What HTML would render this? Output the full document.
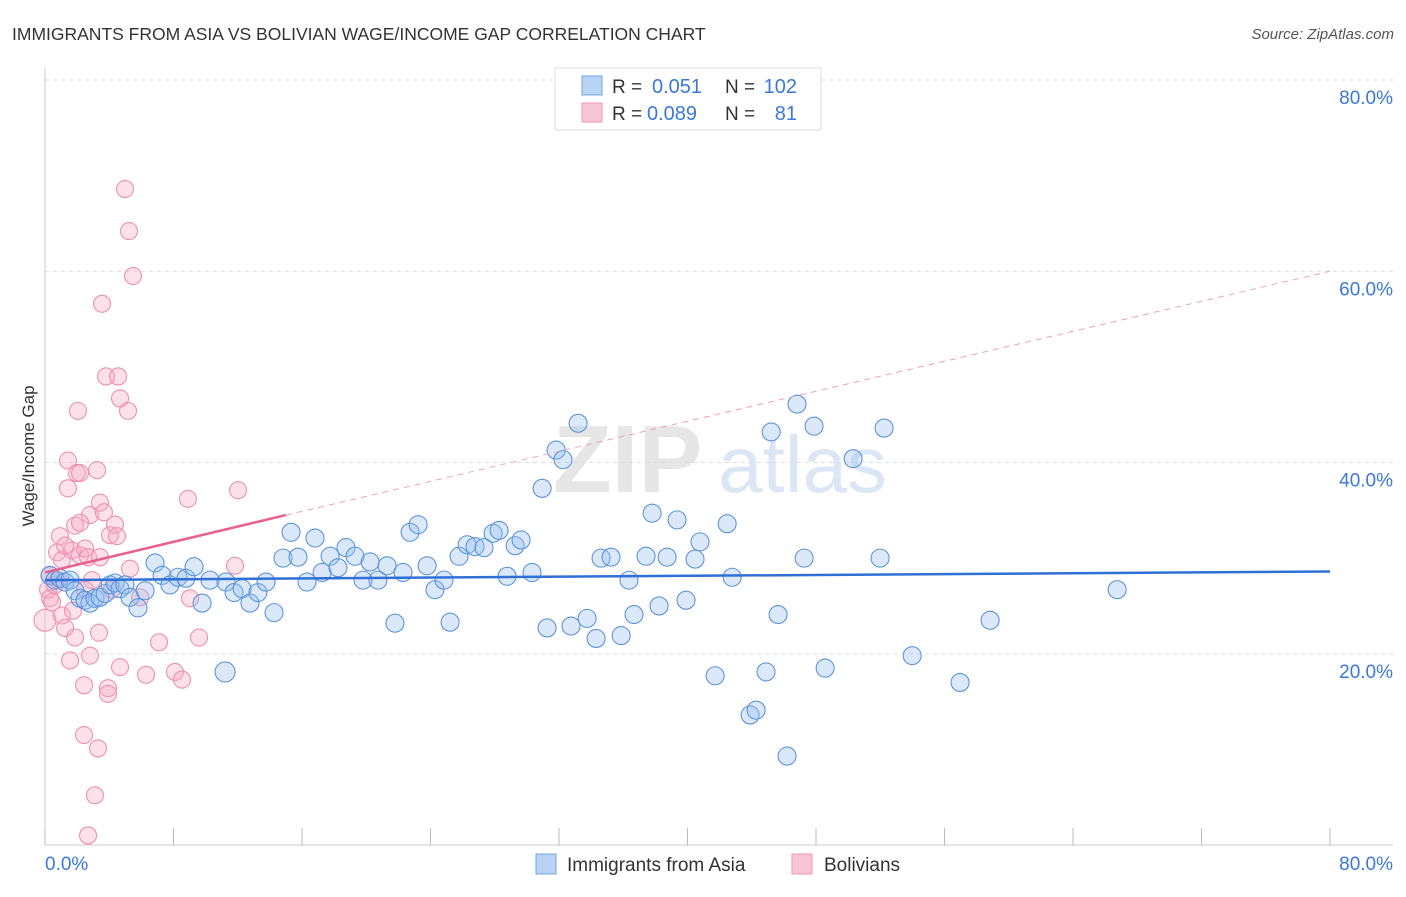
<!DOCTYPE html>
<html><head><meta charset="utf-8"><style>
body{margin:0;background:#fff;font-family:"Liberation Sans",sans-serif;}
svg text{font-family:"Liberation Sans",sans-serif;}
</style></head><body>
<svg id="chart" width="1406" height="892" viewBox="0 0 1406 892" xmlns="http://www.w3.org/2000/svg">
<text x="12" y="40" font-size="17.5" fill="#333">IMMIGRANTS FROM ASIA VS BOLIVIAN WAGE/INCOME GAP CORRELATION CHART</text>
<text x="1394" y="39" font-size="15" fill="#555" text-anchor="end" font-style="italic">Source: ZipAtlas.com</text>
<g>
<text x="553" y="492" font-size="96" fill="#e6e6e6" font-family="Liberation Serif,serif" font-weight="bold">ZIP</text>
<text x="718" y="492" font-size="80" fill="#dbe7f5">atlas</text>
</g>
<g id="grid"></g>
<g id="axes"></g>
<g id="pink"></g>
<g id="blue"></g>
<g id="trends"></g>
<text transform="translate(34,456) rotate(-90)" font-size="17" fill="#333" text-anchor="middle">Wage/Income Gap</text>
<g>
<rect x="555" y="68" width="266" height="62" fill="#fff" stroke="#ddd"/>
<rect x="582" y="76" width="20" height="19" fill="#b9d3f5" stroke="#6fa3e0"/>
<rect x="582" y="103" width="20" height="19" fill="#f9c5d6" stroke="#ee9ab8"/>
<text x="612" y="93" font-size="19" fill="#333">R =</text>
<text x="652" y="93" font-size="20" fill="#3b78d8">0.051</text>
<text x="725" y="93" font-size="19" fill="#333">N =</text>
<text x="797" y="93" font-size="20" fill="#3b78d8" text-anchor="end">102</text>
<text x="612" y="120" font-size="19" fill="#333">R =</text>
<text x="647" y="120" font-size="20" fill="#3b78d8">0.089</text>
<text x="725" y="120" font-size="19" fill="#333">N =</text>
<text x="797" y="120" font-size="20" fill="#3b78d8" text-anchor="end">81</text>
</g>
<g>
<rect x="536" y="854" width="20" height="20" fill="#b9d3f5" stroke="#6fa3e0"/>
<text x="567" y="871" font-size="19" fill="#333">Immigrants from Asia</text>
<rect x="792" y="854" width="20" height="20" fill="#f9c5d6" stroke="#ee9ab8"/>
<text x="824" y="871" font-size="19" fill="#333">Bolivians</text>
</g>
</svg>
<script>
const blueX=[0.31,0.62,0.93,1.25,1.56,1.87,2.18,2.49,2.8,3.11,3.42,3.74,4.05,4.36,4.67,4.98,5.29,5.79,6.23,6.85,7.29,7.78,8.28,8.78,9.28,9.78,10.27,11.27,11.77,12.27,12.76,13.26,13.76,14.26,14.82,15.32,15.75,16.31,16.81,17.25,17.75,18.24,18.74,19.3,19.8,20.24,20.73,21.3,21.79,22.29,22.73,23.23,23.79,24.28,24.84,25.22,25.78,26.28,26.77,27.33,27.9,28.27,28.77,29.27,29.64,30.32,30.95,31.26,31.82,32.25,32.75,33.19,33.75,34.31,34.62,35.24,35.87,36.36,36.67,37.42,37.8,38.23,38.73,39.35,39.91,40.47,40.78,41.72,42.47,42.78,43.9,44.27,44.89,45.21,45.64,46.2,46.82,47.26,47.88,48.57,50.31,51.99,52.24,53.99,56.97,58.84,66.75,11.21];
const blueY=[28.2,27.7,27.9,27.5,27.7,26.6,25.8,25.6,25.3,25.8,25.9,26.3,27.2,27.4,26.8,27.2,25.9,24.8,26.6,29.5,28.2,27.2,28.0,27.9,29.1,25.3,27.7,27.5,26.4,26.8,25.3,26.4,27.5,24.3,30.0,32.7,30.1,27.5,32.1,28.5,30.2,29.0,31.1,30.2,27.7,29.6,27.7,29.2,23.2,28.5,32.7,33.5,29.2,26.7,27.7,23.3,30.2,31.4,31.2,31.1,32.6,32.9,28.1,31.3,31.9,28.5,37.3,22.7,41.3,40.3,22.9,44.1,23.7,21.6,30.0,30.1,21.9,27.7,24.1,30.2,34.7,25.0,30.1,34.0,25.6,29.9,31.7,17.7,33.6,28.0,13.6,14.1,18.1,43.2,24.1,9.3,46.1,30.0,43.8,18.5,40.4,30.0,43.6,19.8,17.0,23.5,26.7,18.1];
const pinkX=[0,0.19,0.31,0.44,0.62,0.75,0.93,1.06,1.25,1.43,1.43,1.56,1.68,1.74,1.87,1.87,1.99,2.05,2.18,2.18,2.43,2.43,2.49,2.68,2.8,2.8,2.93,3.11,3.24,3.3,3.36,3.42,3.42,3.55,3.67,3.8,3.92,3.92,4.05,4.17,4.36,4.48,4.55,4.67,4.67,4.98,5.17,5.23,5.29,5.48,5.92,6.29,7.1,8.09,8.53,8.9,9.03,9.59,11.83,12.02,2.68,1.06,0.31,0.81,1.25,2.18,2.49];
const pinkY=[23.5,26.7,25.8,25.4,27.2,30.6,32.3,24.0,22.7,37.3,40.2,19.3,30.8,24.5,33.4,21.7,38.9,45.4,38.9,30.3,16.7,11.5,31.0,30.1,19.8,34.5,27.7,5.2,39.2,10.1,22.2,35.8,30.1,56.6,34.8,49.0,16.4,15.8,32.4,26.7,33.5,32.3,49.0,18.6,46.7,68.6,45.4,64.2,28.9,59.5,25.9,17.8,21.2,18.1,17.3,36.2,25.8,21.7,29.2,37.1,1.0,29.8,28.2,27.7,31.3,33.7,26.7];
const yTicks=[20,40,60,80];
const yTickLabels=["20.0%","40.0%","60.0%","80.0%"];
const xTicks=[0,8,16,24,32,40,48,56,64,72,80];
const blueTrend=[27.7,28.6];
const pinkTrend=[28.5,34.5,60];
const pinkTrendX=[0,15,80];

const NS="http://www.w3.org/2000/svg";
const xs=v=>45+v*(1330-45)/80;
const ys=v=>845-v*(845-80)/80;
function mk(tag,attrs,parent){const e=document.createElementNS(NS,tag);for(const k in attrs)e.setAttribute(k,attrs[k]);parent.appendChild(e);return e;}
const grid=document.getElementById('grid'),axes=document.getElementById('axes');
yTicks.forEach((t,i)=>{
 const l=mk('line',{x1:45,x2:1393,y1:ys(t),y2:ys(t),stroke:'#ddd','stroke-dasharray':'4,4'},grid);
 
 
 const tx=mk('text',{x:1393,y:ys(t)+24,'font-size':19,fill:'#3b78d8','text-anchor':'end'},axes);
 tx.textContent=yTickLabels[i];
 
 
});
const ax=mk('line',{x1:45,x2:1393,y1:845,y2:845,stroke:'#ccc'},axes);


const ay=mk('line',{x1:45,x2:45,y1:68,y2:845,stroke:'#ccc'},axes);


xTicks.forEach(t=>{
 const l=mk('line',{x1:xs(t),x2:xs(t),y1:828,y2:845,stroke:'#bbb'},axes);
 
 
});
const x0=mk('text',{x:45,y:870,'font-size':19,fill:'#3b78d8'},axes);x0.textContent='0.0%';


const x1=mk('text',{x:1393,y:870,'font-size':19,fill:'#3b78d8','text-anchor':'end'},axes);x1.textContent='80.0%';


const pg=document.getElementById('pink');
pinkX.forEach((x,i)=>{
 const c=mk('circle',{cx:xs(x),cy:ys(pinkY[i]),r:i===0?11:8.5,fill:'rgba(245,170,195,0.35)',stroke:'#ee8fb2','stroke-width':1.1},pg);
 
 
});
const bg=document.getElementById('blue');
blueX.forEach((x,i)=>{
 const c=mk('circle',{cx:xs(x),cy:ys(blueY[i]),r:i===107?10:9,fill:'rgba(150,190,240,0.35)',stroke:'#5b95dc','stroke-width':1.1},bg);
 
 
});
const tg=document.getElementById('trends');
const bt=mk('line',{x1:xs(0),y1:ys(blueTrend[0]),x2:xs(80),y2:ys(blueTrend[1]),stroke:'#2f6fd6','stroke-width':2.5},tg);


const ps=mk('line',{x1:xs(pinkTrendX[0]),y1:ys(pinkTrend[0]),x2:xs(pinkTrendX[1]),y2:ys(pinkTrend[1]),stroke:'#e8608e','stroke-width':2.5},tg);


const pd=mk('line',{x1:xs(pinkTrendX[1]),y1:ys(pinkTrend[1]),x2:xs(pinkTrendX[2]),y2:ys(pinkTrend[2]),stroke:'#eea0bc','stroke-width':1,'stroke-dasharray':'6,5'},tg);


</script>
</body></html>
